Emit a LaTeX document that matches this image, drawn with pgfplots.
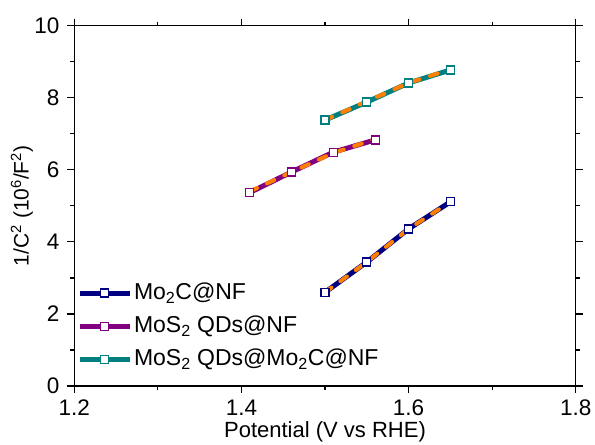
\documentclass[border=0pt]{standalone}
\usepackage{fontspec}
\setmainfont{Liberation Sans}
\usepackage{pgfplots}
\pgfplotsset{compat=1.18}

\definecolor{navyline}{RGB}{0,0,128}
\definecolor{purpleline}{RGB}{128,0,128}
\definecolor{tealline}{RGB}{0,128,128}
\definecolor{fitorange}{RGB}{255,128,0}

\begin{document}
\fontsize{23}{27}\selectfont
\begin{tikzpicture}
\begin{axis}[
  name=ax,
  scale only axis,
  width=501.4pt, height=360.3pt,
  xmin=1.2, xmax=1.8, ymin=0, ymax=10,
  xtick={1.2,1.4,1.6,1.8},
  ytick={0,2,4,6,8,10},
  minor x tick num=1, minor y tick num=1,
  tick pos=both, tick align=outside,
  major tick length=7pt, minor tick length=4pt,
  every tick/.style={black, line width=1.2pt},
  axis line style={line width=1.3pt},
  /pgf/number format/assume math mode=true,
  /pgf/number format/fixed, /pgf/number format/precision=1,
  yticklabel style={/pgf/number format/precision=0},
  tick label style={font=\fontsize{22.5}{26}\selectfont},
  xticklabel style={yshift=1pt},
  xlabel={Potential (V vs RHE)},
  ylabel={1/C\textsuperscript{2} (10\textsuperscript{6}/F\textsuperscript{2})},
  xlabel style={font=\fontsize{22}{26}\selectfont, yshift=9.5pt},
  ylabel style={font=\fontsize{21}{25}\selectfont, yshift=-14pt},
  legend style={at={(rel axis cs:0.005,0.292)}, anchor=north west,
    draw=none, fill=none, inner sep=0pt,
    font=\fontsize{23}{27}\selectfont,
    row sep=9pt},
  legend cell align=left,
  legend image code/.code={%
    \draw[mark repeat=2,mark phase=2] plot coordinates {(0pt,0pt) (25pt,0pt) (50pt,0pt)};},
  every axis plot/.append style={line width=5pt},
  mark options={solid, fill=white, line width=1.2pt, mark size=4pt},
]
% series lines with hollow square markers
\addplot[navyline, mark=square*] coordinates {
  (1.50,2.60) (1.55,3.44) (1.60,4.36) (1.65,5.11)};
\addlegendentry{Mo\textsubscript{2}C@NF}
\addplot[purpleline, mark=square*] coordinates {
  (1.41,5.37) (1.46,5.94) (1.51,6.49) (1.56,6.83)};
\addlegendentry{MoS\textsubscript{2} QDs@NF}
\addplot[tealline, mark=square*] coordinates {
  (1.50,7.38) (1.55,7.88) (1.60,8.41) (1.65,8.77)};
\addlegendentry{MoS\textsubscript{2} QDs@Mo\textsubscript{2}C@NF}
% dashed linear fits on top
\addplot[forget plot, fitorange, line width=4pt, line cap=round,
  dash pattern=on 8pt off 11pt, no marks] coordinates {
  (1.50,2.60) (1.55,3.44) (1.60,4.36) (1.65,5.11)};
\addplot[forget plot, fitorange, line width=4pt, line cap=round,
  dash pattern=on 8pt off 11pt, no marks] coordinates {
  (1.41,5.40) (1.46,5.94) (1.51,6.47) (1.56,6.85)};
\addplot[forget plot, fitorange, line width=4pt, line cap=round,
  dash pattern=on 8pt off 11pt, no marks] coordinates {
  (1.50,7.38) (1.55,7.90) (1.60,8.41) (1.65,8.79)};
\end{axis}
\pgfresetboundingbox
\path[use as bounding box] ([xshift=-74.3pt,yshift=-58pt]ax.south west)
  rectangle ([xshift=19.3pt,yshift=25.7pt]ax.north east);
\end{tikzpicture}
\end{document}
